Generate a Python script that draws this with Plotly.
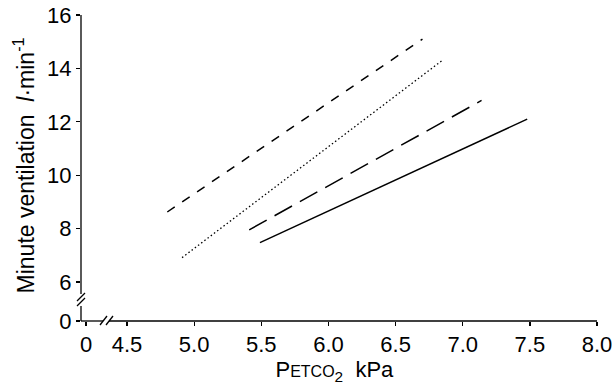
import plotly.graph_objects as go

# ---- data ----
short_dash_x = [4.80, 6.70]
short_dash_y = [8.62, 15.10]
dotted_x = [4.91, 6.85]
dotted_y = [6.91, 14.31]
long_dash_x = [5.41, 7.14]
long_dash_y = [7.95, 12.80]
solid_x = [5.49, 7.48]
solid_y = [7.47, 12.10]

x_tick_vals = [4.195, 4.5, 5.0, 5.5, 6.0, 6.5, 7.0, 7.5, 8.0]
x_tick_text = ["0", "4.5", "5.0", "5.5", "6.0", "6.5", "7.0", "7.5", "8.0"]
y_tick_vals = [4.54, 6, 8, 10, 12, 14, 16]
y_tick_text = ["0", "6", "8", "10", "12", "14", "16"]

# ---- layout geometry ----
W, H = 613, 392
PX0, PX1 = 81, 600          # plot area in page pixels
PY0, PY1 = 10, 321
L, R, T, B = PX0, W - PX1, PY0, H - PY1


def px(x):
    return (x - PX0) / (PX1 - PX0)


def py(y):
    return (PY1 - y) / (PY1 - PY0)


FONT = "Liberation Sans, Arial, sans-serif"

fig = go.Figure()
series = [
    (short_dash_x, short_dash_y, "9px,9px", 1.5),
    (dotted_x, dotted_y, "1.5px,2.5px", 1.3),
    (long_dash_x, long_dash_y, "20px,9px", 1.5),
    (solid_x, solid_y, "solid", 1.5),
]
for xs, ys, dash, w in series:
    fig.add_trace(go.Scatter(x=xs, y=ys, mode="lines",
                             line=dict(color="black", width=w, dash=dash),
                             showlegend=False, hoverinfo="skip"))

line = dict(color="black", width=1.3)
shapes = [
    # y axis with break
    dict(type="line", xref="paper", yref="paper", x0=0, x1=0, y0=py(15), y1=py(294), line=line),
    dict(type="line", xref="paper", yref="paper", x0=0, x1=0, y0=py(306), y1=py(321), line=line),
    dict(type="line", xref="paper", yref="paper", x0=px(77), x1=px(85), y0=py(301), y1=py(293), line=line),
    dict(type="line", xref="paper", yref="paper", x0=px(77), x1=px(85), y0=py(306), y1=py(298), line=line),
    # x axis with break
    dict(type="line", xref="paper", yref="paper", x0=0, x1=px(103), y0=0, y1=0, line=line),
    dict(type="line", xref="paper", yref="paper", x0=px(109), x1=px(597), y0=0, y1=0, line=line),
    dict(type="line", xref="paper", yref="paper", x0=px(100), x1=px(107), y0=py(325), y1=py(316), line=line),
    dict(type="line", xref="paper", yref="paper", x0=px(106), x1=px(113), y0=py(325), y1=py(316), line=line),
]

fig.update_layout(
    width=W, height=H,
    margin=dict(l=L, r=R, t=T, b=B, autoexpand=False),
    plot_bgcolor="white", paper_bgcolor="white",
    font=dict(family=FONT, color="black", size=22),
    shapes=shapes,
    xaxis=dict(range=[4.1575, 8.022], showline=False, showgrid=False, zeroline=False,
               automargin=False, ticklabeloverflow="allow",
               tickmode="array", tickvals=x_tick_vals, ticktext=x_tick_text,
               ticks="outside", ticklen=4, tickwidth=1.3, tickcolor="black",
               tickfont=dict(size=22, family=FONT),
               title=dict(text="P<span style='font-size:16px'>ETCO</span><sub>2</sub>  kPa&nbsp;&nbsp;",
                          font=dict(size=22, family=FONT), standoff=4)),
    yaxis=dict(range=[4.535, 16.19], showline=False, showgrid=False, zeroline=False,
               automargin=False, ticklabeloverflow="allow",
               tickmode="array", tickvals=y_tick_vals, ticktext=y_tick_text,
               ticks="outside", ticklen=4, tickwidth=1.3, tickcolor="black",
               tickfont=dict(size=22, family=FONT),
               title=dict(text="Minute ventilation  <i>l</i>·min<sup>-1</sup>",
                          font=dict(size=23, family=FONT), standoff=6)),
)

fig.write_html("out.html",
               config={"displayModeBar": False, "staticPlot": True},
               post_script="document.body.style.margin='0';document.body.style.overflow='hidden';")
